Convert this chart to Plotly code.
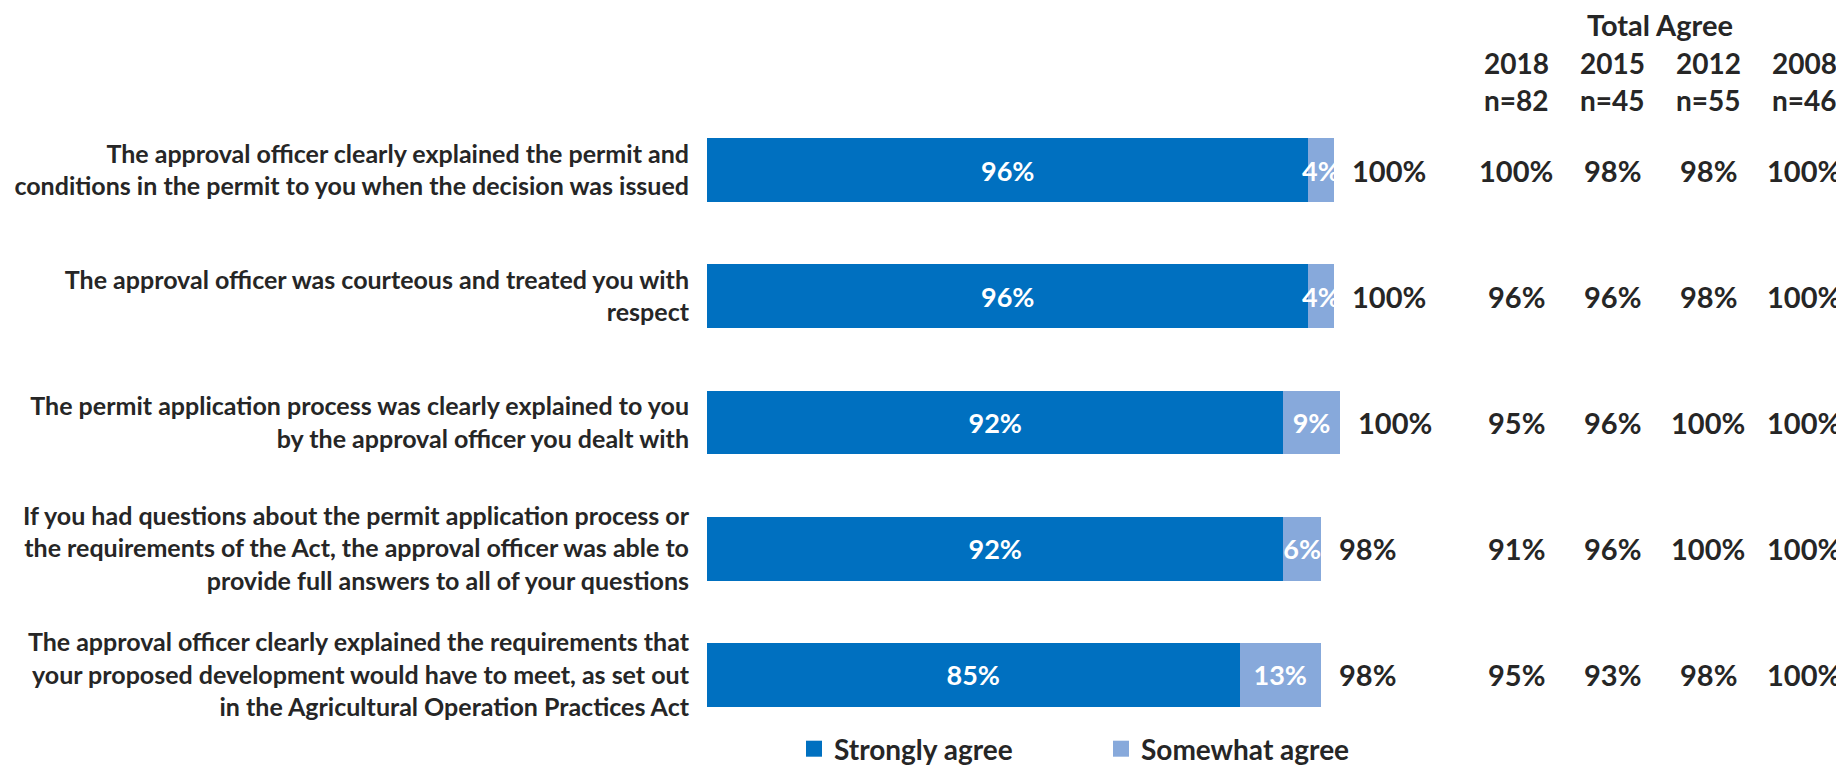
import plotly.graph_objects as go

# Survey statements (top to bottom)
statements = [
    "The approval officer clearly explained the permit and<br>conditions in the permit to you when the decision was issued",
    "The approval officer was courteous and treated you with<br>respect",
    "The permit application process was clearly explained to you<br>by the approval officer you dealt with",
    "If you had questions about the permit application process or<br>the requirements of the Act, the approval officer was able to<br>provide full answers to all of your questions",
    "The approval officer clearly explained the requirements that<br>your proposed development would have to meet, as set out<br>in the Agricultural Operation Practices Act",
]

strongly_agree = [96, 96, 92, 92, 85]
somewhat_agree = [4, 4, 9, 6, 13]
total_label = [100, 100, 100, 98, 98]

# Total agree by survey wave
years = ["2018", "2015", "2012", "2008"]
sample_n = [82, 45, 55, 46]
agree_2018 = [100, 96, 95, 91, 95]
agree_2015 = [98, 96, 96, 96, 93]
agree_2012 = [98, 98, 100, 100, 98]
agree_2008 = [100, 100, 100, 100, 100]
wave_values = [agree_2018, agree_2015, agree_2012, agree_2008]

DARK = "#262626"
BLUE = "#0070C0"
LIGHT = "#87A9DB"
FONT = "Lato"

# the page body has an 8px margin, so the figure is made 8px smaller
OFF = 8
W, H = 1844 - OFF, 770 - OFF
L, R, T, B = 707 - OFF, 0, 107 - OFF, 32
plot_w = W - L - R
plot_h = H - T - B


def px_to_paper_x(px):
    return (px - OFF - L) / plot_w


def px_to_paper_y(py):
    return (H - B - (py - OFF)) / plot_h


fig = go.Figure()

for vals, name, col in [(strongly_agree, "Strongly agree", BLUE),
                        (somewhat_agree, "Somewhat agree", LIGHT)]:
    fig.add_trace(go.Bar(
        y=statements, x=vals, orientation="h", name=name,
        marker=dict(color=col, line=dict(width=0)),
        texttemplate="%{x}%", textposition="inside", insidetextanchor="middle",
        textangle=0, textfont=dict(family=FONT, size=27, color="white", weight="bold"),
        showlegend=False, hoverinfo="skip",
    ))

# legend entries with bigger square swatches
for name, col in [("Strongly agree", BLUE), ("Somewhat agree", LIGHT)]:
    fig.add_trace(go.Scatter(
        x=[None], y=[None], mode="markers", name=name,
        marker=dict(symbol="square", size=18, color=col),
    ))

# total labels at the bar ends
for s, sw, tot, cat in zip(strongly_agree, somewhat_agree, total_label, statements):
    fig.add_annotation(
        x=s + sw, y=cat, xref="x", yref="y", text=f"{tot}%",
        xanchor="left", yanchor="middle", xshift=16, showarrow=False,
        font=dict(family=FONT, size=29, color=DARK, weight="bold"),
    )

# Total Agree table
col_px = [1516, 1612, 1708, 1804]
fig.add_annotation(
    x=px_to_paper_x(1660), y=px_to_paper_y(25), xref="paper", yref="paper",
    text="Total Agree", showarrow=False, xanchor="center", yanchor="middle",
    borderpad=0, font=dict(family=FONT, size=29, color=DARK, weight="bold"),
)
for yr, n, vals, cx in zip(years, sample_n, wave_values, col_px):
    fig.add_annotation(
        x=px_to_paper_x(cx), y=px_to_paper_y(63), xref="paper", yref="paper",
        text=yr, showarrow=False, xanchor="center", yanchor="middle",
        font=dict(family=FONT, size=28, color=DARK, weight="bold"),
    )
    fig.add_annotation(
        x=px_to_paper_x(cx), y=px_to_paper_y(100), xref="paper", yref="paper",
        text=f"n={n}", showarrow=False, xanchor="center", yanchor="middle",
        font=dict(family=FONT, size=28, color=DARK, weight="bold"),
    )
    for v, cat in zip(vals, statements):
        fig.add_annotation(
            x=px_to_paper_x(cx), y=cat, xref="paper", yref="y",
            text=f"{v}%", showarrow=False, xanchor="center", yanchor="middle",
            font=dict(family=FONT, size=29, color=DARK, weight="bold"),
        )

fig.update_layout(
    width=W, height=H,
    barmode="stack", bargap=0.493,
    plot_bgcolor="white", paper_bgcolor="white",
    margin=dict(l=L, r=R, t=T, b=B, pad=0, autoexpand=False),
    uniformtext=dict(minsize=27, mode="show"),
    font=dict(family=FONT, color=DARK),
    legend=dict(
        orientation="h", traceorder="normal",
        x=px_to_paper_x(794), xanchor="left",
        y=px_to_paper_y(749), yanchor="middle",
        font=dict(family=FONT, size=28, color=DARK, weight="bold"),
        entrywidth=262, itemsizing="trace", bgcolor="rgba(0,0,0,0)",
    ),
    xaxis=dict(range=[0, plot_w / 6.265], visible=False, showgrid=False, zeroline=False),
    yaxis=dict(
        autorange=False, range=[4.5, -0.5], showgrid=False, zeroline=False,
        ticks="", ticklabelstandoff=17, showline=False,
        tickfont=dict(family=FONT, size=25, color=DARK, weight="bold"),
    ),
)

fig.write_html("out.html")
